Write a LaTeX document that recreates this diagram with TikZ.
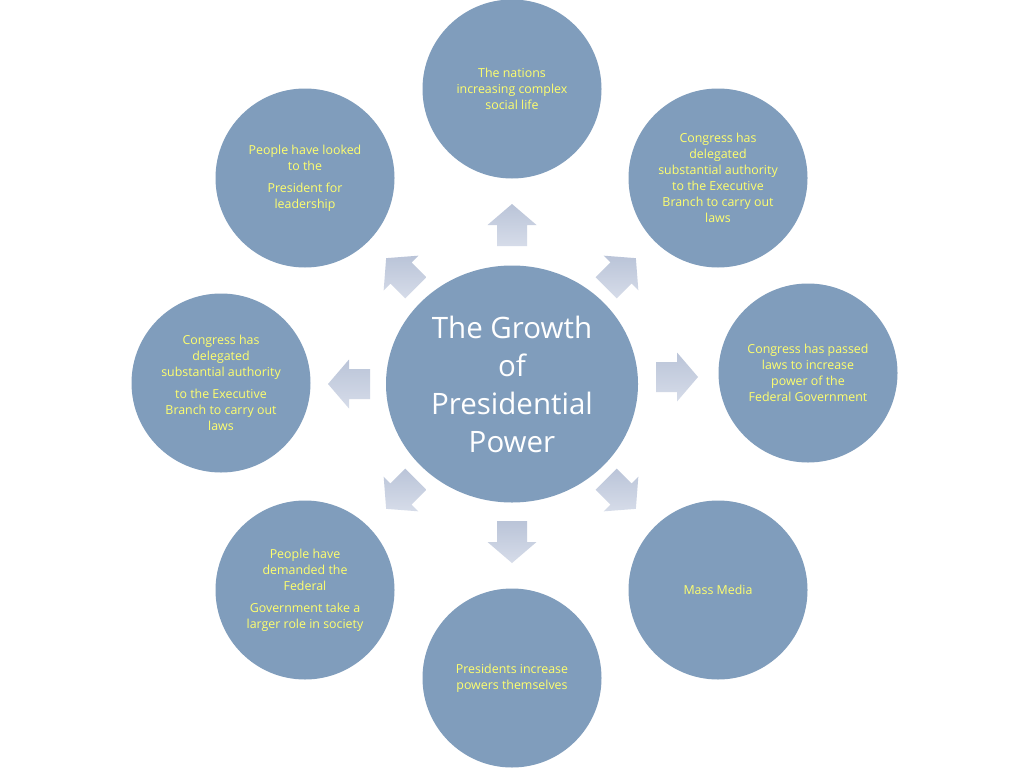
\documentclass[tikz,border=0pt]{standalone}
\usepackage{fontspec}
\setmainfont{Open Sans}
\usetikzlibrary{shapes.geometric}
\definecolor{circfill}{RGB}{128,157,188}
\definecolor{txtyellow}{RGB}{255,255,110}
\definecolor{arrA}{RGB}{186,196,216}
\definecolor{arrB}{RGB}{214,220,233}
\tikzset{
  outer/.style={circle,fill=circfill,draw=none,minimum size=179pt,inner sep=0pt,
    align=center,text=txtyellow,font=\fontsize{12.4}{16}\selectfont},
  hub/.style={ellipse,fill=circfill,draw=none,minimum width=252pt,minimum height=237pt,
    inner sep=0pt,align=center,text=white,font=\fontsize{29.5}{38}\selectfont},
  pics/barrow/.style={code={
    \shade[left color=arrA,right color=arrB,shading angle=0]
      (-21,-15)--(0,-15)--(0,-24.5)--(21,0)--(0,24.5)--(0,15)--(-21,15)--cycle;}}
}
\begin{document}
\begin{tikzpicture}[x=1pt,y=-1pt]
\fill[white] (0,0) rectangle (1024,768);
\useasboundingbox (0,0) rectangle (1024,768);

\node[hub] (hub) at (512,384) {The Growth\\of\\Presidential\\Power};

\node[outer] (top) at (512,89) {The nations\\increasing complex\\social life};
\node[outer] (tr) at (718,178) {Congress has\\delegated\\substantial authority\\to the Executive\\Branch to carry out\\laws};
\node[outer] (right) at (808,373) {Congress has passed\\laws to increase\\power of the\\Federal Government};
\node[outer] (br) at (718,590) {Mass Media};
\node[outer] (bottom) at (512,678) {Presidents increase\\powers themselves};
\node[outer] (bl) at (305,590) {People have\\demanded the\\Federal\\[6pt]Government take a\\larger role in society};
\node[outer] (left) at (221,383) {Congress has\\delegated\\substantial authority\\[6pt]to the Executive\\Branch to carry out\\laws};
\node[outer] (tl) at (305,178) {People have looked\\to the\\[6pt]President for\\leadership};

\pic[rotate=90] at (512,225) {barrow};
\pic[rotate=-90] at (512,542) {barrow};
\pic[rotate=0] at (677,377) {barrow};
\pic[rotate=180] at (349,384) {barrow};
\pic[rotate=45] at (621,273) {barrow};
\pic[rotate=135] at (401,273) {barrow};
\pic[rotate=-45] at (621,494) {barrow};
\pic[rotate=-135] at (401,494) {barrow};
\end{tikzpicture}
\end{document}
